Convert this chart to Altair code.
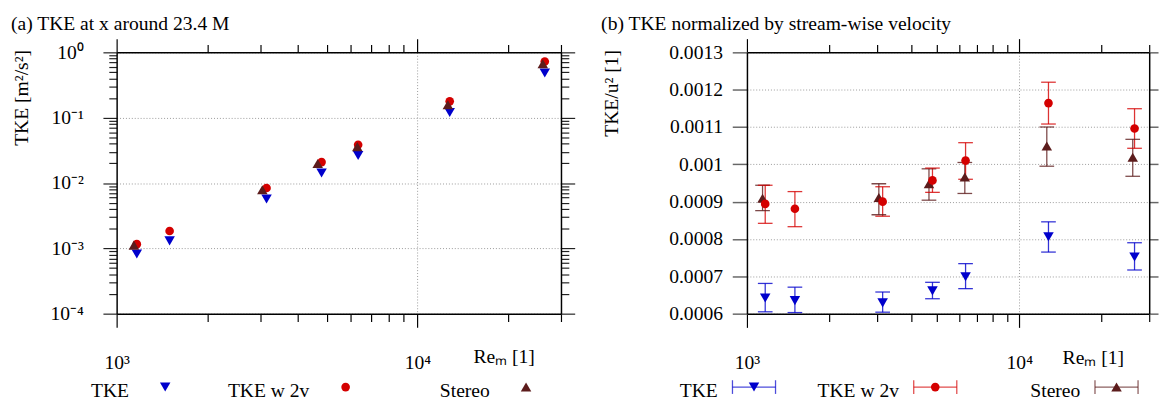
import altair as alt
import pandas as pd

FONT = "Liberation Serif"

series = ["TKE", "TKE w 2v", "Stereo"]
colors = ["#0000cc", "#d40000", "#5c1c1c"]
shapes = ["triangle-down", "circle", "triangle-up"]

# Reynolds numbers (x)
re_tke = [1167, 1500, 3150, 4800, 6350, 12800, 26500]
re_stereo = [1141, 3050, 4660, 6310, 12620, 26100]

# (a) absolute TKE [m^2/s^2]
tke = [0.00082, 0.0013, 0.0057, 0.0142, 0.0263, 0.120, 0.484]
tke2v = [0.00116, 0.00184, 0.0084, 0.0209, 0.0385, 0.178, 0.725]
stereo = [0.00112, 0.0079, 0.0199, 0.036, 0.158, 0.668]

# (b) TKE / u^2 with error bars
tke_n = [0.000642, 0.000635, 0.000629, 0.000661, 0.000699, 0.000806, 0.000752]
tke_n_lo = [0.000605, 0.000603, 0.000604, 0.000640, 0.000667, 0.000765, 0.000717]
tke_n_hi = [0.000681, 0.000671, 0.000658, 0.000684, 0.000734, 0.000846, 0.000790]
tke2v_n = [0.000894, 0.000881, 0.000900, 0.000957, 0.001010, 0.001164, 0.001096]
tke2v_n_lo = [0.000842, 0.000833, 0.000861, 0.000925, 0.000960, 0.001108, 0.001043]
tke2v_n_hi = [0.000944, 0.000927, 0.000940, 0.000990, 0.001058, 0.001220, 0.001149]
stereo_n = [0.000909, 0.000911, 0.000948, 0.000966, 0.001049, 0.001019]
stereo_n_lo = [0.000876, 0.000865, 0.000904, 0.000922, 0.000995, 0.000968]
stereo_n_hi = [0.000944, 0.000948, 0.000988, 0.001005, 0.001100, 0.001067]

# tick values
x_ticks = [1000, 2000, 3000, 4000, 5000, 6000, 7000, 8000, 9000, 10000, 20000, 30000]
y_log_ticks = [round(m * 10.0 ** e, 10) for e in range(-4, 0) for m in range(1, 10)] + [1.0]
y_lin_ticks = [0.0006, 0.0007, 0.0008, 0.0009, 0.001, 0.0011, 0.0012, 0.0013]

# legend symbol positions (px from plot left)
leg_range_a = [49.6, 418.3]
leg_range_b = [7.2, 377.6]
LEG_Y = 342

W_A, W_B, H = 454, 411, 267

abs_df = pd.concat([
    pd.DataFrame({"series": "TKE w 2v", "re": re_tke, "val": tke2v}),
    pd.DataFrame({"series": "TKE", "re": re_tke, "val": tke}),
    pd.DataFrame({"series": "Stereo", "re": re_stereo, "val": stereo}),
])
norm_df = pd.concat([
    pd.DataFrame({"series": "Stereo", "re": re_stereo, "val": stereo_n, "lo": stereo_n_lo, "hi": stereo_n_hi}),
    pd.DataFrame({"series": "TKE", "re": re_tke, "val": tke_n, "lo": tke_n_lo, "hi": tke_n_hi}),
    pd.DataFrame({"series": "TKE w 2v", "re": re_tke, "val": tke2v_n, "lo": tke2v_n_lo, "hi": tke2v_n_hi}),
])
leg_df = pd.DataFrame({"series": series})

color_enc = alt.Color("series:N", scale=alt.Scale(domain=series, range=colors), legend=None)
shape_enc = alt.Shape("series:N", scale=alt.Scale(domain=series, range=shapes), legend=None)
size_enc = alt.condition(alt.datum.series == "TKE w 2v", alt.value(78), alt.value(115))

xscale = alt.Scale(type="log", domain=[1000, 30000], nice=False)
yscale_a = alt.Scale(type="log", domain=[0.0001, 1], nice=False)
yscale_b = alt.Scale(domain=[0.0006, 0.0013], nice=False, zero=False)

X_MAJ = "datum.value == 1000 || datum.value == 10000"
L10 = "round(log(datum.value)/LN10)"
Y_MAJ = f"abs(log(datum.value)/LN10 - {L10}) < 0.001"
sup = {0: "⁰", -1: "⁻¹", -2: "⁻²", -3: "⁻³", -4: "⁻⁴"}
exp_expr = "''"
for k, s in sup.items():
    exp_expr = f"({L10} == {k} ? '{s}' : {exp_expr})"
Y_LABEL = f"({Y_MAJ}) ? '10' + {exp_expr} : ''"
X_LABEL = "datum.value == 1000 ? '10³' : datum.value == 10000 ? '10⁴' : ''"


def x_axis(orient, title_x=0, title_y=0):
    kw = dict(orient=orient, values=x_ticks,
              tickSize={"condition": {"test": X_MAJ, "value": 14}, "value": 8},
              domainColor="black", domainWidth=1.5, tickColor="black", tickWidth=1.2)
    if orient == "bottom":
        kw.update(labelExpr=X_LABEL, labelPadding=36, labelBaseline="middle",
                  grid=True, gridDash=[1, 2], gridColor="#999999",
                  gridOpacity={"condition": {"test": "datum.value == 10000", "value": 1}, "value": 0},
                  title="Reₘ [1]", titleX=title_x, titleY=title_y, titleAlign="left",
                  titleBaseline="middle", titleAngle=0)
    else:
        kw.update(labels=False, grid=False, title=None)
    return alt.Axis(**kw)


def y_axis_log(orient):
    kw = dict(orient=orient, values=y_log_ticks,
              tickSize={"condition": {"test": Y_MAJ, "value": 14}, "value": 8},
              domainColor="black", domainWidth=1.5, tickColor="#222222", tickWidth=1.2)
    if orient == "left":
        kw.update(labelExpr=Y_LABEL, labelPadding=20, grid=True, gridDash=[1, 2],
                  gridColor="#999999",
                  gridOpacity={"condition": {"test": Y_MAJ, "value": 1}, "value": 0},
                  title="TKE [m²/s²]", titleX=-97, titleY=-3, titleAlign="right",
                  titleBaseline="middle", titleAngle=-90)
    else:
        kw.update(labels=False, grid=False, title=None)
    return alt.Axis(**kw)


def y_axis_lin(orient):
    kw = dict(orient=orient, values=y_lin_ticks, tickSize=15 if orient == "left" else 9,
              domainColor="black", domainWidth=1.5, tickColor="#666666", tickWidth=1.5)
    if orient == "left":
        kw.update(labelExpr="'' + datum.value", labelPadding=10, grid=True, gridDash=[1, 2],
                  gridColor="#999999", title="TKE/u² [1]", titleX=-138, titleY=-3,
                  titleAlign="right", titleBaseline="middle", titleAngle=-90)
    else:
        kw.update(labels=False, grid=False, title=None)
    return alt.Axis(**kw)


def legend_layer(rng, errorbars):
    base = alt.Chart(leg_df).encode(
        x=alt.X("series:N", sort=series, axis=None,
                scale=alt.Scale(type="point", domain=series, range=rng, padding=0)),
        y=alt.value(LEG_Y),
    )
    layers = [
        base.mark_text(font=FONT, fontSize=20, align="right", baseline="middle", dx=-37, dy=4,
                       color="black").encode(text="series:N"),
    ]
    if errorbars:
        layers += [
            base.mark_tick(orient="horizontal", size=44, thickness=1.3).encode(color=color_enc),
            base.mark_tick(orient="vertical", size=14, thickness=1.3, xOffset=-22).encode(color=color_enc),
            base.mark_tick(orient="vertical", size=14, thickness=1.3, xOffset=22).encode(color=color_enc),
        ]
    layers.append(base.mark_point(filled=True, opacity=1).encode(
        color=color_enc, shape=shape_enc, size=size_enc))
    return alt.layer(*layers)


# ---------- panel (a) ----------
pts_a = alt.Chart(abs_df).mark_point(filled=True, opacity=1).encode(
    x=alt.X("re:Q", scale=xscale, axis=x_axis("bottom", 364, 44)),
    y=alt.Y("val:Q", scale=yscale_a, axis=y_axis_log("left")),
    color=color_enc, shape=shape_enc, size=size_enc,
)
mirror_a = alt.Chart(abs_df).mark_point(opacity=0).encode(
    x=alt.X("re:Q", scale=xscale, axis=x_axis("top")),
    y=alt.Y("val:Q", scale=yscale_a, axis=y_axis_log("right")),
)
panel_a = alt.layer(pts_a, mirror_a, legend_layer(leg_range_a, False)).resolve_scale(
    x="independent", y="independent"
).properties(width=W_A, height=H,
             title=alt.TitleParams("(a) TKE at x around 23.4 M", dx=-1))

# ---------- panel (b) ----------
xb = alt.X("re:Q", scale=xscale, axis=x_axis("bottom", 322, 45))
yax = y_axis_lin("left")
rules = alt.Chart(norm_df).mark_rule(strokeWidth=1.3, opacity=0.8).encode(
    x=xb, y=alt.Y("lo:Q", scale=yscale_b, axis=yax), y2="hi:Q", color=color_enc)
cap_lo = alt.Chart(norm_df).mark_tick(orient="horizontal", size=15, thickness=1.3, opacity=0.8).encode(
    x=xb, y=alt.Y("lo:Q", scale=yscale_b, axis=yax), color=color_enc)
cap_hi = alt.Chart(norm_df).mark_tick(orient="horizontal", size=15, thickness=1.3, opacity=0.8).encode(
    x=xb, y=alt.Y("hi:Q", scale=yscale_b, axis=yax), color=color_enc)
pts_b = alt.Chart(norm_df).mark_point(filled=True, opacity=1).encode(
    x=xb, y=alt.Y("val:Q", scale=yscale_b, axis=yax),
    color=color_enc, shape=shape_enc, size=size_enc)
data_b = alt.layer(rules, cap_lo, cap_hi, pts_b)
mirror_b = alt.Chart(norm_df).mark_point(opacity=0).encode(
    x=alt.X("re:Q", scale=xscale, axis=x_axis("top")),
    y=alt.Y("val:Q", scale=yscale_b, axis=y_axis_lin("right")),
)
panel_b = alt.layer(data_b, mirror_b, legend_layer(leg_range_b, True)).resolve_scale(
    x="independent", y="independent"
).properties(width=W_B, height=H,
             title=alt.TitleParams("(b) TKE normalized by stream-wise velocity", dx=-1))

chart = alt.hconcat(panel_a, panel_b, spacing=26).properties(
    padding={"left": 2, "top": 2, "right": 0, "bottom": 0}
).configure_view(stroke=None).configure_axis(
    labelFont=FONT, titleFont=FONT, labelFontSize=20, titleFontSize=20,
    titleFontWeight="normal", labelColor="black", titleColor="black",
    labelOverlap=False, labelFlush=False,
).configure_title(
    font=FONT, fontSize=20, fontWeight="normal", anchor="start", frame="bounds",
    color="black", offset=4,
)

chart.save("out.html", embed_options={"renderer": "svg", "actions": False})
